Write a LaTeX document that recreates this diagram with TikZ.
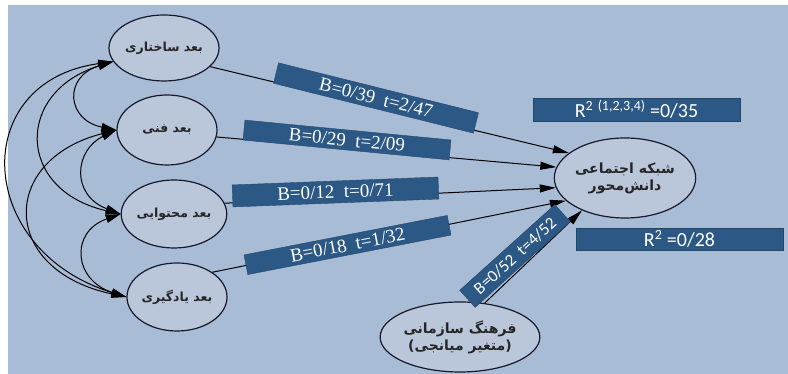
\documentclass[tikz,border=0pt]{standalone}
\usepackage{fontspec}
\setmainfont{Liberation Serif}
\newfontfamily\labelsans{Carlito}
\newfontfamily\arabicfont[Script=Arabic]{DejaVu Sans}
\TeXXeTstate=1
\usetikzlibrary{arrows.meta,shapes.geometric}
\definecolor{backc}{HTML}{A9BCD6}
\definecolor{boxc}{HTML}{2C5886}
\definecolor{ellc}{HTML}{BAC7DB}
\definecolor{rimc}{HTML}{15192B}
\tikzset{
  dimnode/.style={ellipse, draw=rimc, fill=ellc, line width=1.2pt, inner sep=0pt,
    text=black!85, font=\arabicfont\bfseries\fontsize{12.5}{15}\selectfont, align=center},
  mainnode/.style={dimnode, font=\arabicfont\bfseries\fontsize{14}{17}\selectfont},
  coefbox/.style={rectangle, draw=boxc!80!black, fill=boxc, text=white, inner sep=0pt,
    minimum height=20pt, font=\fontsize{19}{21}\selectfont},
  rsqbox/.style={coefbox, font=\labelsans\fontsize{20}{22}\selectfont},
  pathedge/.style={-{Triangle[length=16pt,width=8pt]}, draw=black, line width=1pt},
  covedge/.style={{Triangle[length=15pt,width=8pt]}-{Triangle[length=15pt,width=8pt]},
    draw=black, line width=1pt},
}

\begin{document}
\begin{tikzpicture}[x=1pt, y=1pt]
  \useasboundingbox (0,0) rectangle (788,374);
  \fill[backc] (8,0) rectangle (788,369);
  % dimensions, outcome and mediator
  \node[dimnode, minimum width=98pt, minimum height=66pt] (dstr) at (164,326) {\beginR بعد ساختاری\endR};
  \node[dimnode, minimum width=100pt, minimum height=70pt] (dtech) at (167,244) {\beginR بعد فنی\endR};
  \node[dimnode, minimum width=98pt, minimum height=68pt] (dcont) at (174,160) {\beginR بعد محتوایی\endR};
  \node[dimnode, minimum width=100pt, minimum height=68pt] (dlearn) at (177,77) {\beginR بعد یادگیری\endR};
  \node[mainnode, minimum width=126pt, minimum height=80pt] (net) at (625,196) {\beginR شبکه اجتماعی\endR\\\beginR دانش‌محور\endR};
  \node[mainnode, minimum width=124pt, minimum height=70pt] (cult) at (460,37) {\beginR فرهنگ سازمانی\endR\\\beginR (متغیر میانجی)\endR};
  % correlations between dimensions
  \draw[covedge] (dstr.195) .. controls +(-50,-15) and +(-50,10) .. (dtech.west);
  \draw[covedge] (dstr.195) .. controls +(-98,-30) and +(-105,24) .. (dcont.west);
  \draw[covedge] (dstr.195) .. controls +(-145,-20) and +(-152,47) .. (dlearn.west);
  \draw[covedge] (dtech.west) .. controls +(-42,-20) and +(-50,19) .. (dcont.west);
  \draw[covedge] (dtech.west) .. controls +(-117,-30) and +(-127,27) .. (dlearn.west);
  \draw[covedge] (dcont.west) .. controls +(-51,-18) and +(-53,17) .. (dlearn.west);
  % paths to the outcome
  \draw[pathedge] (dstr.338) -- (net.156);
  \draw[pathedge] (dtech.352) -- (net.171);
  \draw[pathedge] (dcont.12) -- (net.188);
  \draw[pathedge] (dlearn.35) -- (net.201);
  \draw[pathedge] (cult.54) -- (net.217);
  % coefficients
  \node[coefbox, minimum width=206pt, minimum height=21pt, rotate=-14] (bstr) at (376,276) {B=0/39\ \ t=2/47};
  \node[coefbox, minimum width=207pt, rotate=-5.5] (btech) at (347,234) {B=0/29\ \ t=2/09};
  \node[coefbox, minimum width=206pt, minimum height=22pt, rotate=2.2] (bcont) at (335.5,182) {B=0/12\ \ t=0/71};
  \node[coefbox, minimum width=207pt, rotate=11] (blearn) at (347.5,129) {B=0/18\ \ t=1/32};
  \node[coefbox, minimum width=128pt, minimum height=23pt, rotate=42,
    font=\labelsans\fontsize{17}{19}\selectfont] (bcult) at (515,118) {B=0/52\ \ t=4/52};
  \node[rsqbox, minimum width=207pt, minimum height=23pt] (rall) at (636.5,264.5)
    {R\textsuperscript{2} \textsuperscript{(1,2,3,4)} =0/35};
  \node[rsqbox, minimum width=207pt, minimum height=22pt] (rmed) at (679.5,135)
    {R\textsuperscript{2} =0/28};
\end{tikzpicture}
\end{document}
